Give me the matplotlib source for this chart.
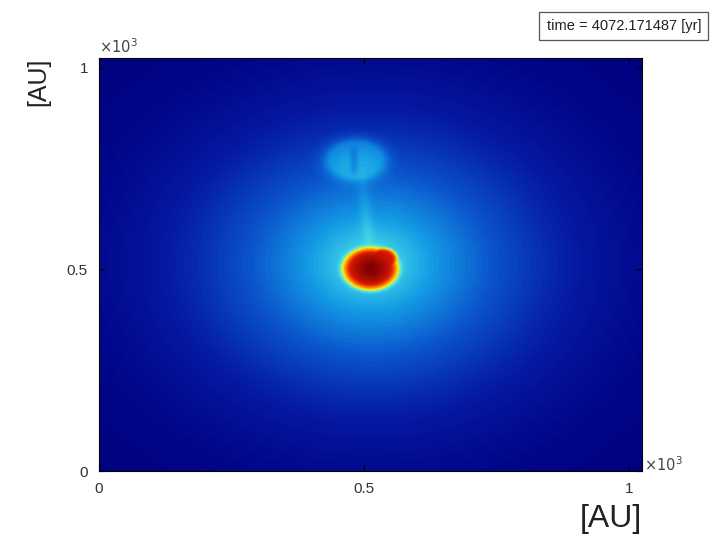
import numpy as np
import matplotlib.pyplot as plt
from matplotlib.colors import LinearSegmentedColormap

plt.rcParams["font.family"] = ["Liberation Sans", "DejaVu Sans"]

# simulation box [AU] and snapshot time
box_size = 1024
sim_time = 4072.171487

# background envelope (log-density level, colour scale 0..1)
env_center = [512, 512]
env_inner = [0.20, 120]   # amplitude, e-folding radius [AU]
env_outer = [0.32, 380]   # amplitude, gaussian radius [AU]

# central dense clump (main lobe + top-right tip + core)
clump_x = [511, 534]
clump_y = [500, 524]
clump_r = [53, 28]
clump_amp = [0.43, 0.42]
core_xy = [512, 492]
core_amp = 0.07

# secondary ring-like clump above
ring_xy = [483, 771]
ring_r = [62, 56]
ring_amp = 0.16
slit_x = 480
slit_y = [735, 800]

# filament connecting the two
stream_top = [496, 720]
stream_bottom = [508, 560]
stream_amp = 0.04

# build the map
n = 512
g = np.linspace(0, box_size, n)
X, Y = np.meshgrid(g, g)

r = np.hypot(X - env_center[0], Y - env_center[1])
field = env_inner[0] * np.exp(-r / env_inner[1]) + env_outer[0] * np.exp(-((r / env_outer[1]) ** 2))

blob = np.zeros_like(field)
for cx, cy, cr, ca in zip(clump_x, clump_y, clump_r, clump_amp):
    d = np.hypot(X - cx, Y - cy)
    blob = np.maximum(blob, ca * np.exp(-((d / cr) ** 8)))
field += blob
field += core_amp * np.exp(-((X - core_xy[0]) ** 2 + (Y - core_xy[1]) ** 2) / (2 * 20**2))

dr = np.hypot((X - ring_xy[0]) / ring_r[0], (Y - ring_xy[1]) / ring_r[1])
field += ring_amp * np.exp(-(dr**4))
field += 0.02 * np.exp(-(((dr - 0.8) / 0.15) ** 2))
slit_mid = 0.5 * (slit_y[0] + slit_y[1])
slit_half = 0.5 * (slit_y[1] - slit_y[0])
field -= 0.06 * np.exp(-(((X - slit_x) / 7) ** 2)) * np.exp(-(((Y - slit_mid) / slit_half) ** 4))

t = np.clip((stream_top[1] - Y) / (stream_top[1] - stream_bottom[1]), 0, 1)
sx = stream_top[0] + t * (stream_bottom[0] - stream_top[0])
fade = np.exp(-(((Y - 0.5 * (stream_top[1] + stream_bottom[1])) / (0.5 * (stream_top[1] - stream_bottom[1]))) ** 6))
field += stream_amp * np.exp(-(((X - sx) / 12) ** 2)) * fade

field = np.clip(field, 0, 1)

# muted jet-like colour scale, as in the snapshot
cmap = LinearSegmentedColormap.from_list("mjet", [
    (0.00, (0.00, 0.00, 0.50)),
    (0.12, (0.02, 0.10, 0.64)),
    (0.25, (0.04, 0.33, 0.80)),
    (0.37, (0.08, 0.62, 0.90)),
    (0.48, (0.30, 0.88, 0.90)),
    (0.62, (0.96, 0.95, 0.10)),
    (0.75, (1.00, 0.52, 0.00)),
    (0.87, (0.86, 0.10, 0.00)),
    (1.00, (0.50, 0.00, 0.00)),
], N=96)

fig = plt.figure(figsize=(7.28, 5.5), dpi=100)
ax = fig.add_axes([0.136, 0.1436, 0.746, 0.751])

ax.imshow(field, cmap=cmap, vmin=0, vmax=1, origin="lower",
          extent=[0, box_size, 0, box_size], aspect="auto", interpolation="bilinear")

ax.set_xlim(0, box_size)
ax.set_ylim(0, box_size)
ax.set_xticks([0, 500, 1000])
ax.set_xticklabels(["0", "0.5", "1"])
ax.set_yticks([0, 500, 1000])
ax.set_yticklabels(["0", "0.5", "1"])
ax.tick_params(direction="in", top=True, right=True, length=4, width=0.8,
               labelsize=11, pad=8, colors="black", labelcolor="#333333")
for s in ax.spines.values():
    s.set_linewidth(0.8)

ax.set_xlabel("[AU]", fontsize=23, loc="right", color="#222222", labelpad=6)
ax.set_ylabel("[AU]", fontsize=18, loc="top", color="#222222", labelpad=12)

ax.text(0.0, 1.005, r"$\times 10^3$", transform=ax.transAxes, fontsize=10.5,
        ha="left", va="bottom", color="#444444")
ax.text(1.004, 0.015, r"$\times 10^3$", transform=ax.transAxes, fontsize=10.5,
        ha="left", va="center", color="#444444")

fig.text(0.857, 0.953, "time = %.6f [yr]" % sim_time, fontsize=10.5, ha="center", va="center",
         color="#222222",
         bbox=dict(boxstyle="square,pad=0.5", facecolor="white", edgecolor="#555555", linewidth=0.9))

fig.savefig("out.png", dpi=100)
